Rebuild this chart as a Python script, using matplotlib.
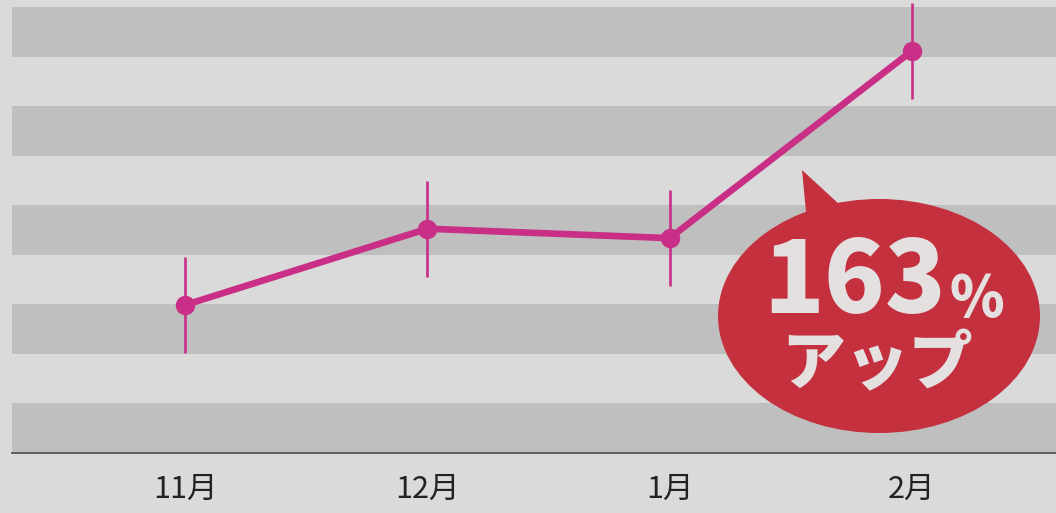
import matplotlib.pyplot as plt
from matplotlib.patches import Ellipse, Polygon

plt.rcParams['font.family'] = ['Noto Sans CJK JP', 'DejaVu Sans']

# ***************************
# Data
# ***************************
months = ['11月', '12月', '1月', '2月']
values = [2.99, 4.53, 4.34, 8.12]
spread = [0.97, 0.97, 0.97, 0.97]
badge_num = '163'
badge_pct = '%'
badge_word = 'アップ'

bg = '#dadada'
band = '#bfbfbf'
pink = '#c92f86'
red = '#c5303f'
badge_text = '#e4e0e0'

W, H = 1056, 513
fig = plt.figure(figsize=(W / 100, H / 100), dpi=100, facecolor=bg)

# main plot area
ax = fig.add_axes([12 / W, (H - 453) / H, (W - 12) / W, 453 / H])
ax.set_facecolor(bg)
ax.set_xlim(-0.715, 3.595)
ax.set_ylim(0, 9.15)

for k in range(0, 10, 2):
    ax.axhspan(k, k + 1, color=band, lw=0, zorder=0)

x = range(len(months))
ax.errorbar(x, values, yerr=spread, fmt='none', ecolor=pink, elinewidth=1.9, zorder=2)
ax.plot(x, values, color=pink, lw=4.8, marker='o', ms=13,
        solid_capstyle='round', zorder=3)

ax.set_xticks(list(x))
ax.set_xticklabels(months, fontsize=22, color='#222222')
ax.tick_params(axis='x', length=0, pad=15)
ax.set_yticks([])
for s in ['top', 'right', 'left']:
    ax.spines[s].set_visible(False)
ax.spines['bottom'].set_color('#555555')
ax.spines['bottom'].set_linewidth(1.3)

# speech bubble overlay (pixel coordinates)
ov = fig.add_axes([0, 0, 1, 1])
ov.set_xlim(0, W)
ov.set_ylim(H, 0)
ov.axis('off')
ov.patch.set_alpha(0)

ov.add_patch(Polygon([[802, 170], [806, 212], [840, 205]], closed=True,
                     color=red, lw=0))
ov.add_patch(Ellipse((879, 316), 322, 234, color=red, lw=0))
ov.text(855, 284, badge_num, fontsize=72, fontweight='black', color=badge_text,
        ha='center', va='center')
ov.text(977, 300, badge_pct, fontsize=40, fontweight='black', color=badge_text,
        ha='center', va='center')
ov.text(877, 366, badge_word, fontsize=46, fontweight='black', color=badge_text,
        ha='center', va='center')

fig.savefig('out.png', dpi=100, facecolor=bg)
